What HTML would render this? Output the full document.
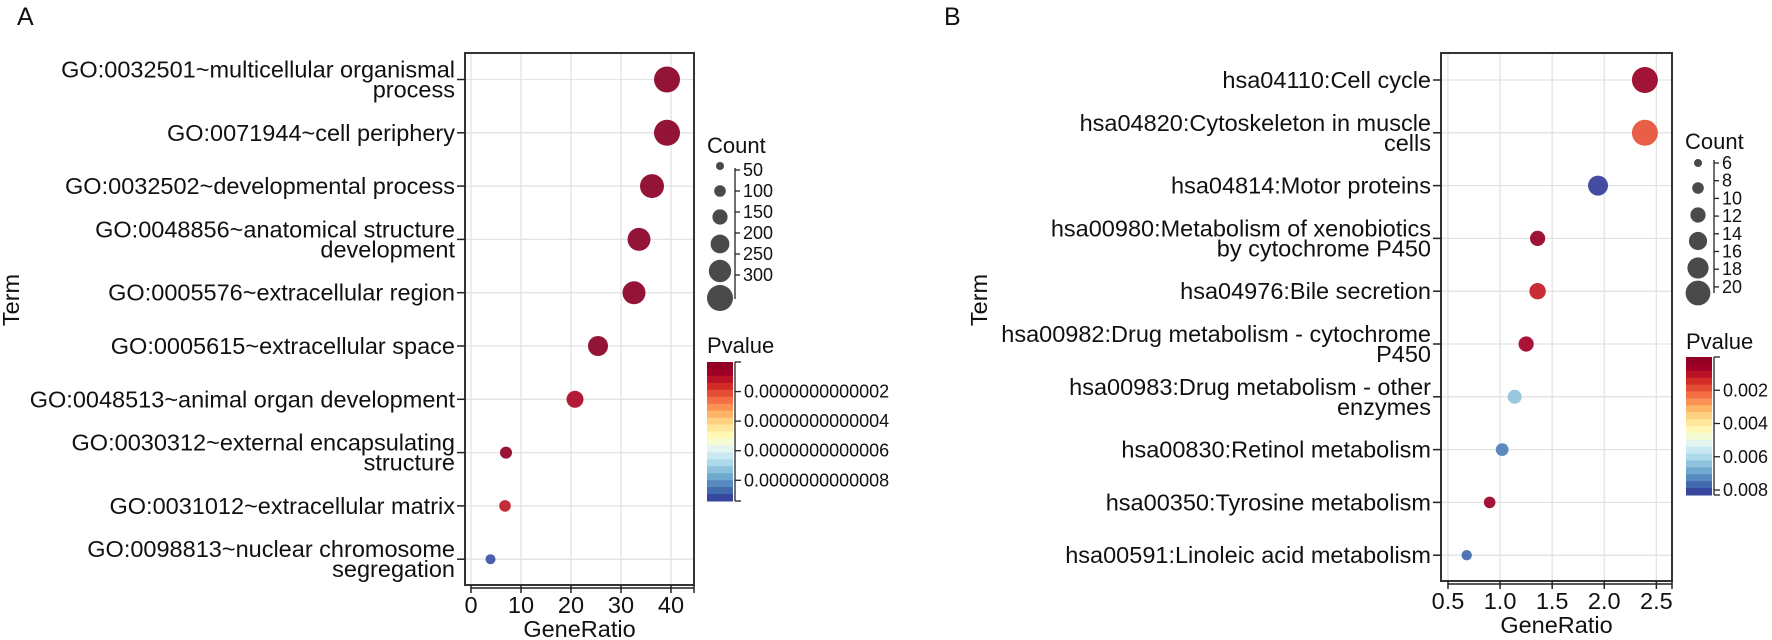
<!DOCTYPE html>
<html><head><meta charset="utf-8"><style>
html,body{margin:0;padding:0;background:#fff;}
svg{display:block;font-family:"Liberation Sans",Arial,sans-serif;}
</style></head><body>
<svg id="fig" width="1772" height="640" viewBox="0 0 1772 640"></svg>
<script>
// ---- Panel A data ----
const termsA = [
 ["GO:0032501~multicellular organismal","process"],
 ["GO:0071944~cell periphery"],
 ["GO:0032502~developmental process"],
 ["GO:0048856~anatomical structure","development"],
 ["GO:0005576~extracellular region"],
 ["GO:0005615~extracellular space"],
 ["GO:0048513~animal organ development"],
 ["GO:0030312~external encapsulating","structure"],
 ["GO:0031012~extracellular matrix"],
 ["GO:0098813~nuclear chromosome","segregation"]
];
const ratioA = [39.2, 39.2, 36.2, 33.6, 32.6, 25.4, 20.8, 7.0, 6.8, 3.9];
const countA = [300, 300, 272, 258, 258, 217, 175, 106, 100, 78];
const pvalA = [0, 0, 0, 0, 0, 0, 1.0e-13, 0.1e-13, 1.3e-13, 9.0e-13];
const xTicksA = [0, 10, 20, 30, 40];
const countLegA = [50, 100, 150, 200, 250, 300];
const pTicksA = ["0.0000000000002","0.0000000000004","0.0000000000006","0.0000000000008"];
const pTickValsA = [2e-13, 4e-13, 6e-13, 8e-13];

// ---- Panel B data ----
const termsB = [
 ["hsa04110:Cell cycle"],
 ["hsa04820:Cytoskeleton in muscle","cells"],
 ["hsa04814:Motor proteins"],
 ["hsa00980:Metabolism of xenobiotics","by cytochrome P450"],
 ["hsa04976:Bile secretion"],
 ["hsa00982:Drug metabolism - cytochrome","P450"],
 ["hsa00983:Drug metabolism - other","enzymes"],
 ["hsa00830:Retinol metabolism"],
 ["hsa00350:Tyrosine metabolism"],
 ["hsa00591:Linoleic acid metabolism"]
];
const ratioB = [2.39, 2.39, 1.94, 1.36, 1.36, 1.25, 1.14, 1.02, 0.90, 0.68];
const countB = [21, 21, 16, 12, 13, 12, 11, 10, 9, 8];
const pvalB = [0.0004, 0.0019, 0.0082, 0.0003, 0.0012, 0.0006, 0.0064, 0.0074, 0.0004, 0.0077];
const xTicksB = [0.5, 1.0, 1.5, 2.0, 2.5];
const countLegB = [6, 9, 12, 14.5, 17, 20];
const countLabB = ["6","8","10","12","14","16","18","20"];
const pTicksB = ["0.002","0.004","0.006","0.008"];
const pTickValsB = [0.002, 0.004, 0.006, 0.008];

const NS = "http://www.w3.org/2000/svg";
const svg = document.getElementById("fig");
function mk(tag, attrs, parent){
  const e = document.createElementNS(NS, tag);
  for (const k in attrs) e.setAttribute(k, attrs[k]);
  (parent||svg).appendChild(e);
  return e;
}
const stops = ["#313695","#4575b4","#74add1","#abd9e9","#e0f3f8","#ffffbf","#fee090","#fdae61","#f46d43","#d73027","#a50026","#8b0026"];
function hex(c){return [1,3,5].map(i=>parseInt(c.substr(i,2),16));}
function cmap(t){
  t = Math.max(0, Math.min(1, t));
  const u = (1 - t) * (stops.length - 1);
  const i = Math.min(stops.length - 2, Math.floor(u));
  const f = u - i;
  const a = hex(stops[i]), b = hex(stops[i+1]);
  return "rgb(" + a.map((v,k)=>Math.round(v + (b[k]-v)*f)).join(",") + ")";
}

function panel(cfg){
  const g = mk("g", {});
  
  
  const {x0,x1,y0,y1,xmin,xmax} = cfg;
  const xs = v => x0 + (v - xmin) / (xmax - xmin) * (x1 - x0);
  const rowY = i => cfg.rowTop + i * cfg.rowStep;
  cfg.xticks.forEach(t=>{
    const gl = mk("line",{x1:xs(t),x2:xs(t),y1:y0,y2:y1,stroke:"#e3e3e3","stroke-width":1.3},g);
    
    
  });
  cfg.terms.forEach((t,i)=>{
    const gl = mk("line",{x1:x0,x2:x1,y1:rowY(i),y2:rowY(i),stroke:"#e3e3e3","stroke-width":1.3},g);
    
    
  });
  const box = mk("rect",{x:x0,y:y0,width:x1-x0,height:y1-y0,fill:"none",stroke:"#333","stroke-width":2},g);
  
  
  cfg.terms.forEach((lines,i)=>{
    const y = rowY(i);
    mk("line",{x1:x0-8,x2:x0,y1:y,y2:y,stroke:"#222","stroke-width":1.5},g);
    const tx = mk("text",{x:x0-10,"text-anchor":"end","font-size":23.5,fill:"#111"},g);
    
    
    const n = lines.length;
    lines.forEach((ln,k)=>{
      const ts = mk("tspan",{x:x0-10,y: y + 8 + (k - (n-1)/2) * 20},tx);
      ts.textContent = ln;
    });
  });
  const axl = mk("line",{x1:xs(cfg.xticks[0]),x2:x1,y1:y1+3,y2:y1+3,stroke:"#222","stroke-width":1.5},g);
  
  
  cfg.xticks.forEach(t=>{
    mk("line",{x1:xs(t),x2:xs(t),y1:y1,y2:y1+8,stroke:"#222","stroke-width":1.5},g);
    const tl = mk("text",{x:xs(t),y:y1+28,"text-anchor":"middle","font-size":23.5,fill:"#111"},g);
    
    
    tl.textContent = cfg.xfmt(t);
  });
  mk("line",{x1:x1,x2:x1,y1:y1,y2:y1+8,stroke:"#222","stroke-width":1.5},g);
  const xt = mk("text",{x:(x0+x1)/2,y:y1+52,"text-anchor":"middle","font-size":23.5,fill:"#111"},g);
  
  
  xt.textContent = "GeneRatio";
  const yt = mk("text",{x:cfg.termX,y:300,"text-anchor":"middle","font-size":23.5,fill:"#111",transform:`rotate(-90 ${cfg.termX} 300)`},g);
  
  
  yt.textContent = "Term";
  const lt = mk("text",{x:cfg.letterX,y:25,"font-size":25,fill:"#111"},g);
  
  
  lt.textContent = cfg.letter;
  cfg.ratio.forEach((v,i)=>{
    const c = mk("circle",{cx:xs(v),cy:rowY(i),r:cfg.rs(cfg.count[i]),fill:cmap(cfg.pval[i]/cfg.pmax),"fill-opacity":0.92},g);
    
    
  });
  const cl = cfg.cleg;
  const ct = mk("text",{x:cl.x-13,y:cl.titleY,"font-size":22,fill:"#111"},g);
  
  
  ct.textContent = "Count";
  cfg.countLeg.forEach((c,i)=>{
    const cc = mk("circle",{cx:cl.x,cy:cl.ys[i],r:cfg.rs(c),fill:"#4a4a4a"},g);
    
    
  });
  mk("line",{x1:cl.ax,x2:cl.ax,y1:cl.axTop,y2:cl.axBot,stroke:"#222","stroke-width":1.3},g);
  cl.labels.forEach((lab,i)=>{
    const y = cl.labTop + i*cl.labStep;
    mk("line",{x1:cl.ax,x2:cl.ax+5,y1:y,y2:y,stroke:"#222","stroke-width":1.3},g);
    const t = mk("text",{x:cl.ax+8,y:y+6,"font-size":18,fill:"#111"},g);
    
    
    t.textContent = lab;
  });
  const pl = cfg.pleg;
  const pt = mk("text",{x:pl.x,y:pl.ty,"font-size":22,fill:"#111"},g);
  
  
  pt.textContent = "Pvalue";
  const N = 20, h = (pl.y2 - pl.y)/N;
  for(let k=0;k<N;k++){
    mk("rect",{x:pl.x,y:pl.y+k*h,width:26,height:h+0.5,fill:cmap((k+0.5)/N)},g);
  }
  mk("line",{x1:pl.x+28,x2:pl.x+28,y1:pl.y,y2:pl.y2,stroke:"#222","stroke-width":1.3},g);
  mk("line",{x1:pl.x+28,x2:pl.x+34,y1:pl.y,y2:pl.y,stroke:"#222","stroke-width":1.3},g);
  mk("line",{x1:pl.x+28,x2:pl.x+34,y1:pl.y2,y2:pl.y2,stroke:"#222","stroke-width":1.3},g);
  cfg.pTickVals.forEach((v,i)=>{
    const y = pl.y + v/cfg.pmax*(pl.y2-pl.y);
    mk("line",{x1:pl.x+28,x2:pl.x+34,y1:y,y2:y,stroke:"#222","stroke-width":1.3},g);
    const t = mk("text",{x:pl.x+37,y:y+6,"font-size":18,fill:"#111"},g);
    
    
    t.textContent = cfg.pTicks[i];
  });
}

panel({name:"panel-a", letter:"A", letterX:17, termX:19,
  x0:465,x1:694,y0:53,y1:585,xmin:-1.2,xmax:44.6,
  rowTop:79.5,rowStep:53.3, terms:termsA, ratio:ratioA, count:countA, pval:pvalA, pmax:9.4e-13,
  xticks:xTicksA, xfmt:t=>String(t),
  rs:c=>2.2+0.036*c,
  countLeg:countLegA,
  cleg:{x:720,titleY:153,ys:[166,191,217,244,271,298],ax:735,axTop:168,axBot:299,labels:["50","100","150","200","250","300"],labTop:170,labStep:21},
  pleg:{x:707,y:362,y2:501,ty:353}, pTicks:pTicksA, pTickVals:pTickValsA});

panel({name:"panel-b", letter:"B", letterX:944, termX:987,
  x0:1441,x1:1672,y0:53,y1:581,xmin:0.433,xmax:2.65,
  rowTop:80,rowStep:52.8, terms:termsB, ratio:ratioB, count:countB, pval:pvalB, pmax:0.0083,
  xticks:xTicksB, xfmt:t=>t.toFixed(1),
  rs:c=>0.4+0.6*c,
  countLeg:countLegB,
  cleg:{x:1698,titleY:149,ys:[163,188,215,241,268,293],ax:1714,axTop:160,axBot:293,labels:countLabB,labTop:163,labStep:17.7},
  pleg:{x:1686,y:357,y2:495,ty:349}, pTicks:pTicksB, pTickVals:pTickValsB});
</script>
</body></html>
